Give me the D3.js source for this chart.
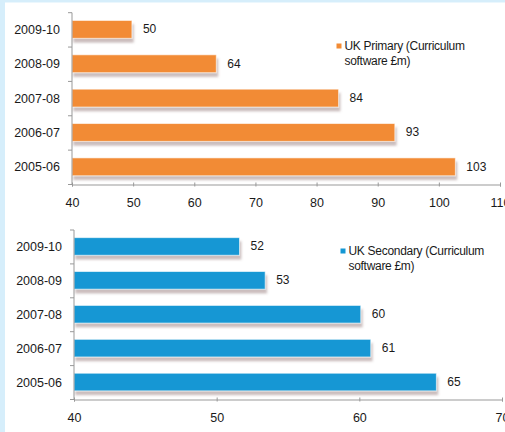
<!DOCTYPE html>
<html lang="en">
<head>
<meta charset="UTF-8">
<title>Curriculum software</title>
<script src="https://cdn.jsdelivr.net/npm/d3@7"></script>
<style>
  html, body { margin: 0; padding: 0; background: #d6eefb; }
  svg { display: block; }
  text { font-family: "Liberation Sans", Arial, sans-serif; fill: #1a1a1a; }
</style>
</head>
<body>
<div id="chart"></div>
<script>
// datos
const categories = ["2009-10", "2008-09", "2007-08", "2006-07", "2005-06"];
const primaryValues = [49.8, 63.6, 83.6, 92.8, 102.7];
const secondaryValues = [51.6, 53.4, 60.1, 60.8, 65.4];
const primaryTicks = [40, 50, 60, 70, 80, 90, 100, 110];
const secondaryTicks = [40, 50, 60, 70];
const primaryLegend = ["UK Primary (Curriculum", "software £m)"];
const secondaryLegend = ["UK Secondary (Curriculum", "software £m)"];

const W = 505, H = 432;

const svg = d3.select("#chart").append("svg")
  .attr("width", W)
  .attr("height", H);

// fondo blanco dentro del marco azul claro
svg.append("rect")
  .attr("x", 5).attr("y", 2.5)
  .attr("width", W - 5).attr("height", H - 2.5)
  .attr("fill", "#fff");

const defs = svg.append("defs");
const shadow = defs.append("filter")
  .attr("id", "barShadow")
  .attr("x", "-5%").attr("y", "-20%")
  .attr("width", "115%").attr("height", "160%");
shadow.append("feDropShadow")
  .attr("dx", 1.5).attr("dy", 4)
  .attr("stdDeviation", 1.3)
  .attr("flood-color", "#8c6f6f")
  .attr("flood-opacity", 0.45);

function drawPanel(cfg) {
  const g = svg.append("g");

  const x = d3.scaleLinear()
    .domain([cfg.ticks[0], cfg.ticks[cfg.ticks.length - 1]])
    .range([cfg.left, cfg.right]);

  const y = d3.scaleBand()
    .domain(categories)
    .range([cfg.top, cfg.bottom]);

  const bw = y.bandwidth();
  const barH = bw * 0.52;
  const barOff = (bw - barH) / 2 - 0.5;

  // barras
  g.selectAll(".bar")
    .data(cfg.values)
    .enter()
    .append("rect")
      .attr("class", "bar")
      .attr("x", x(cfg.ticks[0]))
      .attr("y", (d, i) => y(categories[i]) + barOff)
      .attr("width", d => x(d) - x(cfg.ticks[0]))
      .attr("height", barH)
      .attr("fill", cfg.color)
      .attr("stroke", "#fff")
      .attr("stroke-opacity", 0.6)
      .attr("stroke-width", 1)
      .attr("filter", "url(#barShadow)");

  // etiquetas de valor
  g.selectAll(".val")
    .data(cfg.values)
    .enter()
    .append("text")
      .attr("class", "val")
      .attr("x", d => x(d) + 11)
      .attr("y", (d, i) => y(categories[i]) + barOff + barH / 2)
      .attr("dominant-baseline", "central")
      .style("font-size", "12px")
      .text(d => d3.format(".0f")(d));

  // eje x
  const xAxis = g.append("g")
    .attr("transform", `translate(0, ${cfg.bottom})`)
    .call(d3.axisBottom(x).tickValues(cfg.ticks).tickSize(2).tickPadding(12));
  xAxis.select(".domain").attr("stroke", "#999");
  xAxis.selectAll(".tick line").attr("stroke", "#999").attr("y1", -2);
  xAxis.selectAll(".tick text")
    .style("font-size", "12.5px")
    .style("font-family", "'Liberation Sans', Arial, sans-serif")
    .attr("fill", "#1a1a1a");

  // eje y (marcas entre categorias, como Excel)
  const yAxis = g.append("g")
    .attr("transform", `translate(${x(cfg.ticks[0])}, 0)`)
    .call(d3.axisLeft(y).tickSize(0).tickPadding(12));
  yAxis.select(".domain").remove();
  yAxis.selectAll(".tick text")
    .style("font-size", "12.5px")
    .style("font-family", "'Liberation Sans', Arial, sans-serif")
    .attr("fill", "#1a1a1a");

  const bounds = categories.map(c => y(c)).concat([cfg.bottom]);
  yAxis.append("line")
    .attr("y1", cfg.top).attr("y2", cfg.bottom)
    .attr("stroke", "#999");
  yAxis.selectAll(".ytick")
    .data(bounds)
    .enter()
    .append("line")
      .attr("class", "ytick")
      .attr("x1", -4).attr("x2", 0)
      .attr("y1", d => d).attr("y2", d => d)
      .attr("stroke", "#999");

  // leyenda
  const lg = g.append("g").attr("transform", `translate(${cfg.legendX}, ${cfg.legendY})`);
  lg.append("rect")
    .attr("x", 0).attr("y", -2.5)
    .attr("width", 5).attr("height", 5)
    .attr("fill", cfg.color);
  lg.selectAll("text")
    .data(cfg.legend)
    .enter()
    .append("text")
      .attr("x", 8)
      .attr("y", (d, i) => i * 15)
      .attr("dominant-baseline", "central")
      .style("font-size", "12px")
      .style("letter-spacing", "-0.3px")
      .text(d => d);
}

drawPanel({
  values: primaryValues,
  ticks: primaryTicks,
  legend: primaryLegend,
  color: "#f28b35",
  left: 72, right: 500,
  top: 12.7, bottom: 184.5,
  legendX: 336.5, legendY: 46
});

drawPanel({
  values: secondaryValues,
  ticks: secondaryTicks,
  legend: secondaryLegend,
  color: "#1497d4",
  left: 74, right: 502,
  top: 230, bottom: 399.5,
  legendX: 340.5, legendY: 251
});
</script>
</body>
</html>
